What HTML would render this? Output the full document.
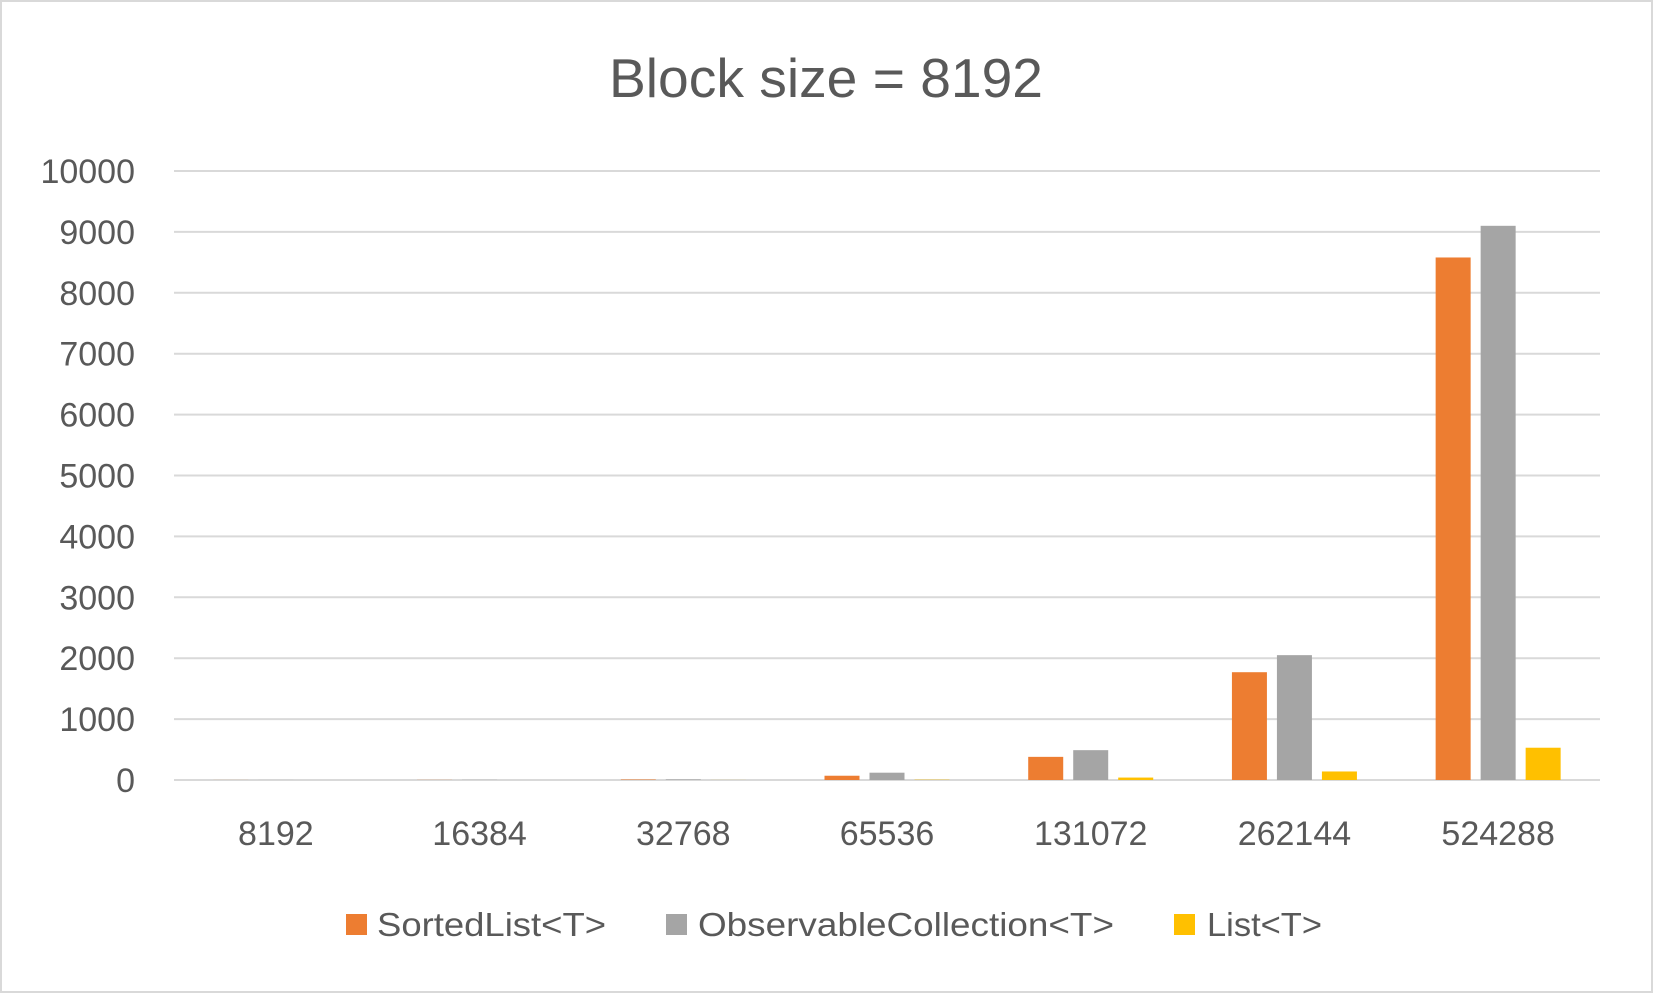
<!DOCTYPE html>
<html><head><meta charset="utf-8"><style>
html,body{margin:0;padding:0;background:#fff}
svg{display:block;font-family:"Liberation Sans",sans-serif}
</style></head><body>
<svg id="chart" width="1653" height="993" viewBox="0 0 1653 993" xmlns="http://www.w3.org/2000/svg">
<rect x="1" y="1" width="1651" height="991" fill="#fff" stroke="#d9d9d9" stroke-width="2"/>
<text x="826" y="97" text-anchor="middle" font-size="55" fill="#595959" textLength="434" lengthAdjust="spacingAndGlyphs">Block size = 8192</text>
<g id="grid"></g><g id="bars"></g><g id="labels"></g>
<g>
<rect x="346" y="914" width="21" height="21" fill="#ed7d31"/>
<text x="377" y="936" font-size="33" fill="#595959" textLength="229" lengthAdjust="spacingAndGlyphs">SortedList&lt;T&gt;</text>
<rect x="666" y="914" width="21" height="21" fill="#a5a5a5"/>
<text x="698" y="936" font-size="33" fill="#595959" textLength="416" lengthAdjust="spacingAndGlyphs">ObservableCollection&lt;T&gt;</text>
<rect x="1174" y="914" width="21" height="21" fill="#ffc000"/>
<text x="1207" y="936" font-size="33" fill="#595959" textLength="115" lengthAdjust="spacingAndGlyphs">List&lt;T&gt;</text>
</g>
</svg>
<script>
const categories = ["8192","16384","32768","65536","131072","262144","524288"];
const sortedList = [1, 2, 8, 70, 380, 1770, 8580];
const observable = [1, 3, 10, 120, 490, 2050, 9100];
const listT = [0, 0, 1, 5, 40, 140, 530];
const yTicks = [0,1000,2000,3000,4000,5000,6000,7000,8000,9000,10000];
const NS="http://www.w3.org/2000/svg";
const L=174,R=1600,T=171,B=780,yMax=10000;
const y=v=>B-(v/yMax)*(B-T);
const band=(R-L)/categories.length;
const cx=i=>L+band*(i+0.5);
function mk(tag,attrs,parent){const e=document.createElementNS(NS,tag);for(const k in attrs)e.setAttribute(k,attrs[k]);parent.appendChild(e);return e;}
const grid=document.getElementById('grid'),bars=document.getElementById('bars'),labels=document.getElementById('labels');
yTicks.forEach(t=>{
 const l=mk('line',{x1:L,x2:R,y1:y(t),y2:y(t),stroke:'#d9d9d9','stroke-width':2},grid);
 
 
 const tx=mk('text',{x:135,y:y(t)+12,'text-anchor':'end','font-size':34,fill:'#595959'},labels);
 tx.textContent=t;
 
 
});
const series=[[sortedList,'#ed7d31','bar-sortedlist'],[observable,'#a5a5a5','bar-observable'],[listT,'#ffc000','bar-list']];
const bw=35,gap=10;
categories.forEach((c,i)=>{
 series.forEach((s,j)=>{
  const x=cx(i)-(3*bw+2*gap)/2+j*(bw+gap);
  const v=s[0][i];
  const r=mk('rect',{x:x,y:y(v),width:bw,height:Math.max(0,B-y(v)),fill:s[1]},bars);
  
  
 });
 const tx=mk('text',{x:cx(i),y:845,'text-anchor':'middle','font-size':34,fill:'#595959'},labels);
 tx.textContent=c;
 
 
});
</script>
</body></html>
